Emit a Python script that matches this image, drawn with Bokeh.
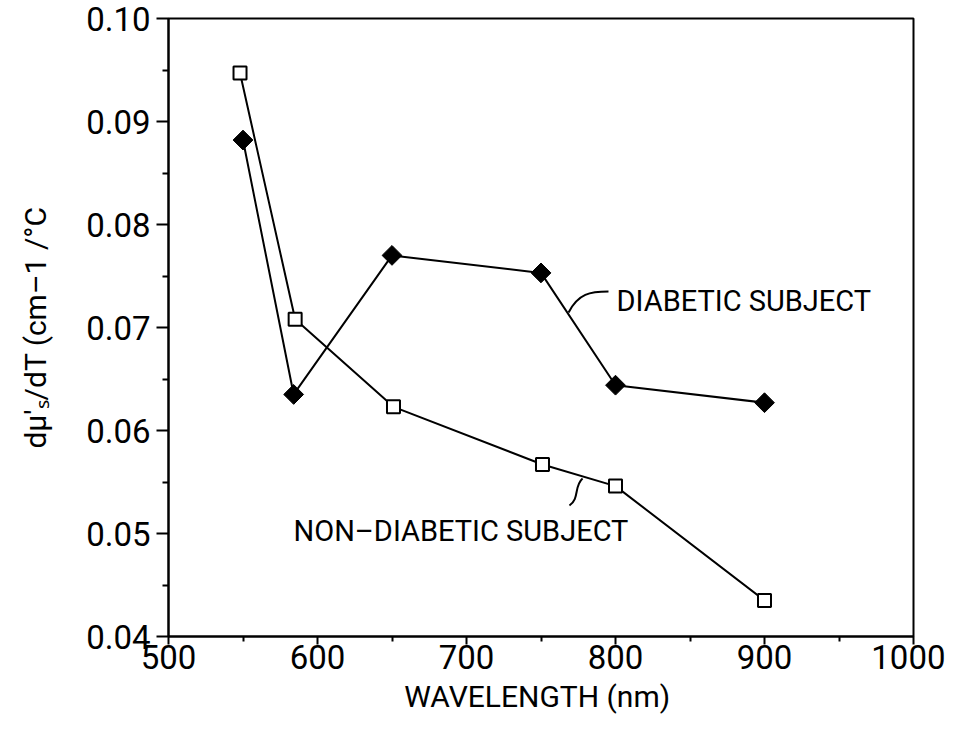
import math
from bokeh.plotting import figure
from bokeh.models import FixedTicker, PrintfTickFormatter, Range1d
from bokeh.embed import file_html
from bokeh.resources import INLINE
from bokeh.core.properties import value

# data
wavelength_diab = [550, 584, 650, 750, 800, 900]
dmu_diab = [0.0882, 0.0635, 0.0770, 0.0753, 0.0644, 0.0627]
wavelength_non = [548, 585, 651, 751, 800, 900]
dmu_non = [0.0947, 0.0708, 0.0623, 0.0567, 0.0546, 0.0435]

x_ticks = [500, 600, 700, 800, 900, 1000]
y_ticks = [0.04, 0.05, 0.06, 0.07, 0.08, 0.09, 0.10]

FONT = "Roboto"

p = figure(width=945, height=723, output_backend="svg", toolbar_location=None,
           x_range=Range1d(500, 1000), y_range=Range1d(0.04, 0.10),
           min_border_left=168, min_border_right=32, min_border_top=18, min_border_bottom=87)
p.grid.visible = False
p.outline_line_color = "black"
p.outline_line_width = 2
p.background_fill_color = "white"
p.border_fill_color = "white"

for ax in (p.xaxis[0], p.yaxis[0]):
    ax.axis_line_width = 2
    ax.axis_line_color = "black"
    ax.major_tick_line_width = 2
    ax.minor_tick_line_width = 2
    ax.major_tick_in = 0
    ax.minor_tick_in = 0
    ax.major_label_text_font = FONT
    ax.major_label_text_font_size = "33px"
    ax.major_label_text_color = "black"
    ax.axis_label_text_font = FONT
    ax.axis_label_text_font_size = "30px"
    ax.axis_label_text_font_style = "normal"
    ax.axis_label_text_color = "black"

p.xaxis.ticker = FixedTicker(ticks=x_ticks, minor_ticks=[550, 650, 750, 850, 950])
p.xaxis.major_tick_out = 8
p.xaxis.minor_tick_out = 5
p.xaxis.major_label_standoff = 0
p.xaxis.axis_label = "WAVELENGTH  (nm)"
p.xaxis.axis_label_standoff = 7

p.yaxis.ticker = FixedTicker(ticks=y_ticks,
                             minor_ticks=[0.045, 0.055, 0.065, 0.075, 0.085, 0.095])
p.yaxis.formatter = PrintfTickFormatter(format="%.2f")
p.yaxis.major_tick_out = 12
p.yaxis.minor_tick_out = 6
p.yaxis.major_label_standoff = 6
p.yaxis.axis_label = "dμ'ₛ/dT (cm–1 /°C"
p.yaxis.axis_label_standoff = 30

p.line(wavelength_diab, dmu_diab, line_color="black", line_width=2)
p.scatter(wavelength_diab, dmu_diab, marker="square", size=14, angle=math.pi / 4,
          fill_color="black", line_color="black", line_width=1)
p.line(wavelength_non, dmu_non, line_color="black", line_width=2)
p.scatter(wavelength_non, dmu_non, marker="square", size=13, fill_color="white",
          line_color="black", line_width=2)

# leader curves
p.bezier(x0=[768.5], y0=[0.07146], x1=[795.3], y1=[0.0735],
         cx0=[775.0], cy0=[0.0733], cx1=[783.0], cy1=[0.0735],
         line_color="black", line_width=2)
p.bezier(x0=[777.9], y0=[0.05534], x1=[769.1], y1=[0.05272],
         cx0=[772.0], cy0=[0.0546], cx1=[776.0], cy1=[0.0534],
         line_color="black", line_width=2)

p.text(x=[800.7], y=[0.07262], text=["DIABETIC  SUBJECT"], text_font=value(FONT),
       text_font_size="29px", text_baseline="middle", text_align="left", text_color="black")
p.text(x=[583.9], y=[0.05029], text=["NON–DIABETIC  SUBJECT"], text_font=value(FONT),
       text_font_size="29px", text_baseline="middle", text_align="left", text_color="black")

open("out.html", "w").write(file_html(p, INLINE))
